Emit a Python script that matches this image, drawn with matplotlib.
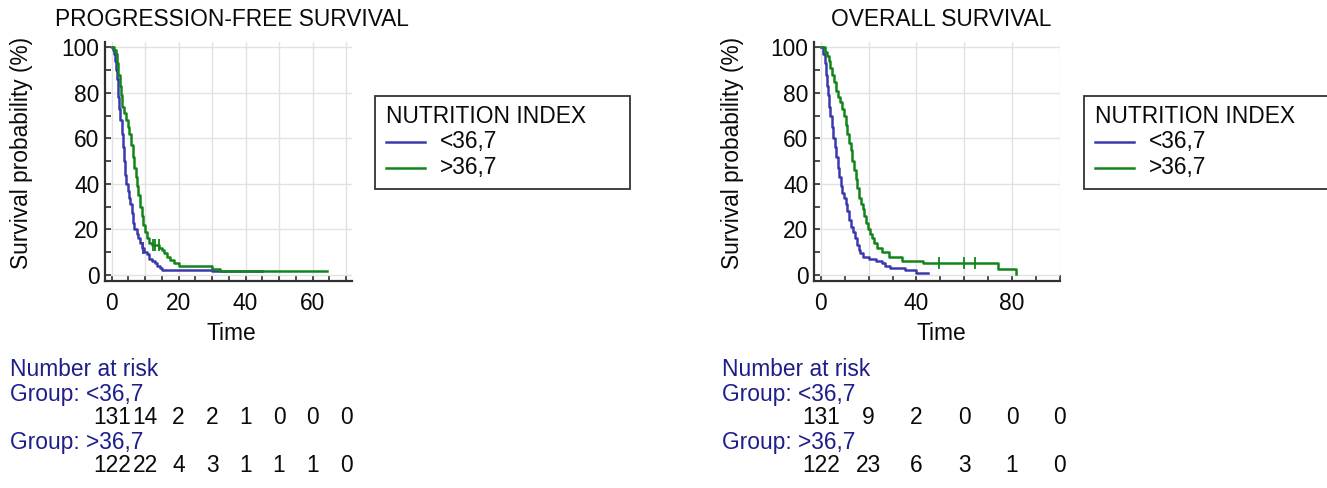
import matplotlib
matplotlib.use("Agg")
import matplotlib.pyplot as plt
import matplotlib.transforms as mtransforms
from matplotlib.patches import Rectangle
from matplotlib.lines import Line2D

plt.rcParams['font.family'] = ['Liberation Sans', 'DejaVu Sans']

# ---------------- data ----------------
group_labels = ["<36,7", ">36,7"]
legend_title = "NUTRITION INDEX"

# Progression-free survival, <36,7
pfs_low_t = [0, 0.5, 0.8, 1.0, 1.3, 1.5, 1.8, 2.0, 2.3, 2.6, 3.0, 3.3, 3.6, 4.0, 4.3, 4.8, 5.2, 5.6,
             6.0, 6.4, 6.8, 7.5, 8.0, 8.6, 9.2, 9.8, 10.5, 11.2, 12.0, 12.8, 13.5, 14.3, 15.0, 30.0, 44.8]
pfs_low_s = [100, 99, 97, 94, 90, 86, 82, 78, 73, 68, 62, 56, 50, 44, 40, 37, 34, 31,
             27, 23, 20, 18, 16, 14, 12, 10, 9, 7, 6, 5, 4, 3, 2, 1.5, 1.5]
pfs_low_cens_t = [9.3]
pfs_low_cens_s = [12]

# Progression-free survival, >36,7
pfs_high_t = [0, 0.8, 1.2, 1.6, 2.0, 2.4, 2.8, 3.2, 3.6, 4.2, 4.8, 5.3, 5.8, 6.3, 6.8, 7.2, 7.6, 8.0,
              8.5, 9.0, 9.5, 10.0, 10.6, 11.2, 12.0, 14.2, 15.0, 15.6, 16.5, 17.5, 18.5, 20.0, 30.0, 32.5, 64.2]
pfs_high_s = [100, 99, 97, 93, 88, 83, 79, 74, 71, 68, 65, 62, 57, 52, 47, 43, 39, 35,
              30, 26, 22, 19, 16, 14, 13, 12, 11, 9.5, 8, 6.5, 5, 4, 2.5, 1.5, 1.5]
pfs_high_cens_t = [12.4, 13.0, 14.0]
pfs_high_cens_s = [13, 13, 13]

# Overall survival, <36,7
os_low_t = [0, 0.8, 1.5, 2.0, 2.6, 3.0, 3.5, 4.0, 4.6, 5.2, 5.8, 6.4, 7.0, 7.6, 8.2, 8.8, 9.6, 10.4,
            11.0, 11.8, 12.5, 13.5, 14.2, 15.0, 15.8, 16.5, 17.5, 20.0, 23.0, 25.5, 27.0, 29.0, 35.0, 40.0, 45.0]
os_low_s = [100, 97, 93, 88, 83, 79, 74, 70, 65, 60, 56, 52, 47, 43, 39, 36, 34, 31,
            28, 24, 21, 19, 16, 13, 11, 9.5, 8, 7, 6, 5, 4, 3, 2, 1, 1]

# Overall survival, >36,7
os_high_t = [0, 1.5, 2.5, 3.3, 4.0, 4.7, 5.5, 6.3, 7.0, 8.0, 9.0, 9.6, 10.3, 11.0, 11.8, 12.5, 13.2,
             14.0, 14.6, 15.2, 15.8, 16.6, 17.5, 18.2, 19.0, 19.8, 20.6, 21.5, 22.3, 23.5, 25.5, 28.5,
             34.0, 42.7, 74.0, 81.5, 81.5]
os_high_s = [100, 98, 96, 94, 91, 88, 85, 81, 78, 76, 73, 70, 66, 62, 58, 55, 50,
             46, 42, 38, 34, 31, 29, 26, 23, 20, 18, 16, 14, 12, 10, 8,
             6, 5, 2.5, 0.5, 0.5]
os_high_cens_t = [49.5, 59.8, 64.5]
os_high_cens_s = [5, 5, 5]

# Number at risk
pfs_risk_times = [0, 10, 20, 30, 40, 50, 60, 70]
pfs_risk_low = [131, 14, 2, 2, 1, 0, 0, 0]
pfs_risk_high = [122, 22, 4, 3, 1, 1, 1, 0]
os_risk_times = [0, 20, 40, 60, 80, 100]
os_risk_low = [131, 9, 2, 0, 0, 0]
os_risk_high = [122, 23, 6, 3, 1, 0]

# ---------------- style ----------------
W, H = 1327, 488
BLUE = "#3a3aae"
GREEN = "#12851a"
NAVY = "#1e1e8a"
GRID = "#e2e2e2"
SPINE = "#303030"
TXT = "#0a0a0a"
FS = 16.4

fig = plt.figure(figsize=(W / 100, H / 100), dpi=100)


def fx(px):
    return px / W


def fy(py):
    return 1 - py / H


def make_axes(left_px, right_px, xmax, xmajor, xlabel_every, xminor):
    top_px, bottom_px = 41.7, 281
    ax = fig.add_axes([fx(left_px), fy(bottom_px), fx(right_px - left_px), (bottom_px - top_px) / H])
    ax.set_ylim(-2.7, 102.5)
    ax.set_yticks(range(0, 101, 20))
    ax.set_yticks(range(10, 100, 20), minor=True)
    xt = list(range(0, xmax + 1, xmajor))
    ax.set_xticks(xt)
    ax.set_xticklabels([str(v) if v % xlabel_every == 0 else "" for v in xt])
    ax.set_xticks([v for v in range(0, xmax + 1, xminor) if v % xmajor != 0], minor=True)
    ax.grid(True, which='major', color=GRID, linewidth=1.0)
    ax.set_axisbelow(True)
    for s in ['top', 'right']:
        ax.spines[s].set_visible(False)
    for s in ['left', 'bottom']:
        ax.spines[s].set_color(SPINE)
        ax.spines[s].set_linewidth(1.6)
    ax.tick_params(which='both', direction='in', length=4, width=1.2, color=SPINE,
                   labelsize=FS, labelcolor=TXT)
    ax.tick_params(axis='x', which='major', pad=8)
    ax.tick_params(axis='y', which='major', pad=4)
    return ax


def km(ax, t, s, color):
    ax.step(t, s, where='post', color=color, linewidth=1.8, zorder=3)


def censor(ax, t, s, color):
    ax.plot(t, s, linestyle='none', marker='|', markersize=8, markeredgewidth=1.3, color=color, zorder=3)


def legend_box(x0, width):
    fig.patches.append(Rectangle((fx(x0), fy(189)), fx(width), (189 - 96) / H, transform=fig.transFigure,
                                 facecolor='white', edgecolor='#333333', linewidth=1.3))
    fig.text(fx(x0 + 11), fy(116.5), legend_title, fontsize=FS, va='center', ha='left', color=TXT)
    for lab, col, ly in zip(group_labels, [BLUE, GREEN], [142, 168]):
        fig.lines.append(Line2D([fx(x0 + 11), fx(x0 + 50)], [fy(ly), fy(ly)], transform=fig.transFigure,
                                color=col, linewidth=1.8))
        fig.text(fx(x0 + 65), fy(ly), lab, fontsize=FS, va='center', ha='left', color=TXT)


def risk_table(ax, x_text, times, low, high):
    fig.text(fx(x_text), fy(370), "Number at risk", fontsize=FS, color=NAVY, va='center')
    fig.text(fx(x_text), fy(394), "Group: " + group_labels[0], fontsize=FS, color=NAVY, va='center')
    fig.text(fx(x_text), fy(442), "Group: " + group_labels[1], fontsize=FS, color=NAVY, va='center')
    tr = mtransforms.blended_transform_factory(ax.transData, fig.transFigure)
    for t, n in zip(times, low):
        ax.text(t, fy(418), str(n), transform=tr, ha='center', va='center', fontsize=FS, color=TXT)
    for t, n in zip(times, high):
        ax.text(t, fy(466), str(n), transform=tr, ha='center', va='center', fontsize=FS, color=TXT)


# ---- left panel: PFS ----
ax1 = make_axes(105, 351.7, 70, 10, 20, 5)
ax1.set_xlim(-2.0, 71.7)
km(ax1, pfs_low_t, pfs_low_s, BLUE)
km(ax1, pfs_high_t, pfs_high_s, GREEN)
censor(ax1, pfs_low_cens_t, pfs_low_cens_s, BLUE)
censor(ax1, pfs_high_cens_t, pfs_high_cens_s, GREEN)
fig.text(fx(232), fy(20), "PROGRESSION-FREE SURVIVAL", fontsize=FS, ha='center', va='center', color=TXT)
fig.text(fx(22), fy(153), "Survival probability (%)", fontsize=FS, rotation=90, ha='center', va='center',
         color=TXT)
fig.text(fx(231), fy(333), "Time", fontsize=FS, ha='center', va='center', color=TXT)
legend_box(375, 255)
risk_table(ax1, 10, pfs_risk_times, pfs_risk_low, pfs_risk_high)

# ---- right panel: OS ----
ax2 = make_axes(814, 1060, 100, 20, 40, 10)
ax2.set_xlim(-2.9, 100.1)
km(ax2, os_low_t, os_low_s, BLUE)
km(ax2, os_high_t, os_high_s, GREEN)
censor(ax2, os_high_cens_t, os_high_cens_s, GREEN)
fig.text(fx(941), fy(20), "OVERALL SURVIVAL", fontsize=FS, ha='center', va='center', color=TXT)
fig.text(fx(732), fy(153), "Survival probability (%)", fontsize=FS, rotation=90, ha='center', va='center',
         color=TXT)
fig.text(fx(941), fy(333), "Time", fontsize=FS, ha='center', va='center', color=TXT)
legend_box(1084, 280)
risk_table(ax2, 722, os_risk_times, os_risk_low, os_risk_high)

fig.savefig("out.png", dpi=100, facecolor='white')
